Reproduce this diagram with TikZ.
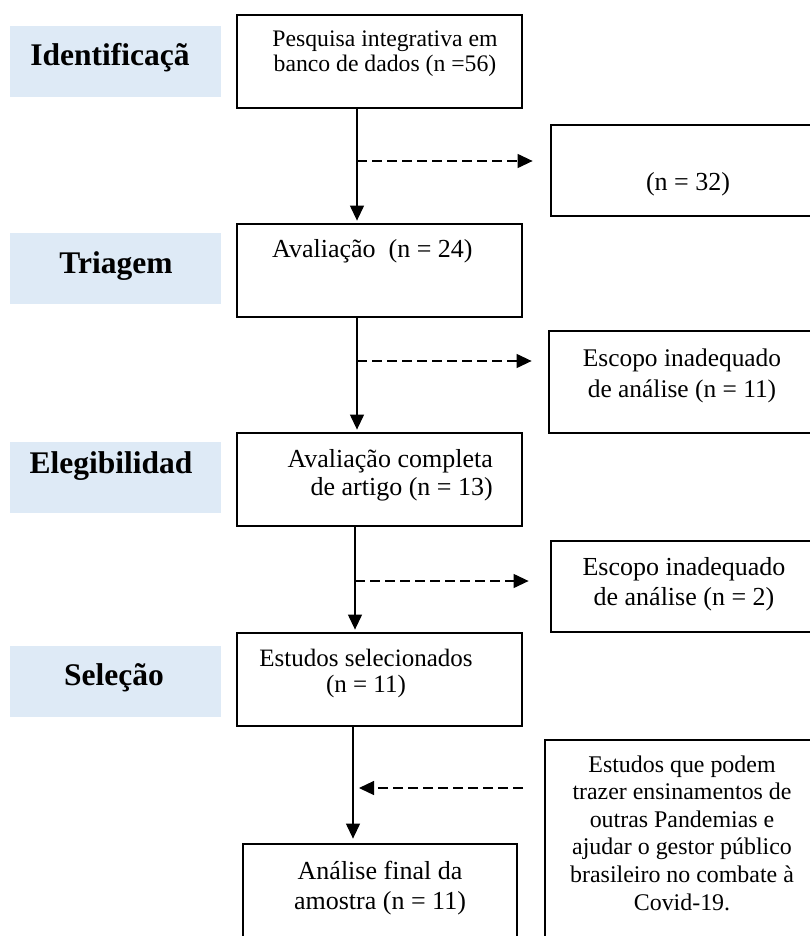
\documentclass[tikz,border=0pt]{standalone}
\usepackage{fontspec}
\setmainfont{Liberation Serif}
\usetikzlibrary{arrows.meta}
\definecolor{labblue}{HTML}{DEEAF6}
\begin{document}
\begin{tikzpicture}[x=1pt,y=-1pt,
  boxnode/.style={draw=black, line width=2.8pt, inner sep=0pt, anchor=center},
  labnode/.style={fill=labblue, draw=none, inner sep=0pt, minimum width=211pt, minimum height=71pt, anchor=center},
  labtext/.style={font=\fontsize{31.5}{36}\selectfont\bfseries, inner sep=0pt, anchor=base},
  txt/.style={inner sep=0pt, align=center, anchor=base},
  tip/.style={-{Triangle[length=15pt,width=14pt]}},
  flowarrow/.style={line width=1.2pt, tip, shorten >=2pt},
  sidearrow/.style={line width=1.2pt, dash pattern=on 10pt off 5pt, tip}
  ]
\useasboundingbox (0,0) rectangle (810,936);
\fill[white] (0,0) rectangle (810,936);
\clip (0,0) rectangle (810,936);

% stage labels
\node[labnode] (lab1) at (115.5,61.5) {};
\node[labnode] (lab2) at (115.5,268.5) {};
\node[labnode] (lab3) at (115.5,477) {};
\node[labnode] (lab4) at (115.5,681.5) {};
\node[labtext] (lt1) at (110,66) {Identificaçã};
\node[labtext] (lt2) at (116,273) {Triagem};
\node[labtext] (lt3) at (111,473) {Elegibilidad};
\node[labtext] (lt4) at (114,685) {Seleção};

% main boxes
\node[boxnode, minimum width=285pt, minimum height=93pt] (b1) at (379.5,61.5) {};
\node[boxnode, minimum width=285pt, minimum height=93pt] (b2) at (379.5,270.5) {};
\node[boxnode, minimum width=285pt, minimum height=93pt] (b3) at (379.5,479.5) {};
\node[boxnode, minimum width=285pt, minimum height=93pt] (b4) at (379.5,679.5) {};
\node[boxnode, minimum width=274pt, minimum height=116pt] (b5) at (380,902) {};

% side boxes
\node[boxnode, minimum width=279pt, minimum height=91pt] (r1) at (690.5,170.5) {};
\node[boxnode, minimum width=281pt, minimum height=102pt] (r2) at (689.5,382) {};
\node[boxnode, minimum width=279pt, minimum height=91pt] (r3) at (690.5,586.5) {};
\node[boxnode, minimum width=285pt, minimum height=220pt] (r4) at (687.5,850) {};

% texts (anchor base = baseline of last line)
\node[txt, font=\fontsize{23.7}{25}\selectfont] (t1) at (385,72) {Pesquisa integrativa em\\banco de dados (n =56)};
\node[txt, anchor=base west, font=\fontsize{26}{29}\selectfont] (t2) at (272,257) {Avaliação\ \ (n = 24)};
\node[txt, align=right, anchor=base east, font=\fontsize{26}{28}\selectfont] (t3) at (493,495) {Avaliação completa\\de artigo (n = 13)};
\node[txt, font=\fontsize{25}{26}\selectfont] (t4) at (366,692) {Estudos selecionados\\(n = 11)};
\node[txt, font=\fontsize{26}{29.5}\selectfont] (t5) at (380,909) {Análise final da\\amostra (n = 11)};
\node[txt, font=\fontsize{26}{30}\selectfont] (tr1) at (688,190) {(n = 32)};
\node[txt, font=\fontsize{25.4}{31}\selectfont] (tr2) at (682,397) {Escopo inadequado\\de análise (n = 11)};
\node[txt, font=\fontsize{26}{30}\selectfont] (tr3) at (684,605) {Escopo inadequado\\de análise (n = 2)};
\node[txt, font=\fontsize{23.9}{27.6}\selectfont] (tr4) at (682,910) {Estudos que podem\\trazer ensinamentos de\\outras Pandemias e\\ajudar o gestor público\\brasileiro no combate à\\Covid-19.};

% spine coordinates
\coordinate (s1) at (357,0);
\coordinate (s2) at (357,0);
\coordinate (s3) at (355,0);
\coordinate (s4) at (353,0);

% main flow
\draw[flowarrow] (b1.south -| s1) -- (b2.north -| s1);
\draw[flowarrow] (b2.south -| s2) -- (b3.north -| s2);
\draw[flowarrow] (b3.south -| s3) -- (b4.north -| s3);
\draw[flowarrow, shorten >=4pt] (b4.south -| s4) -- (b5.north -| s4);

% side dashed arrows
\coordinate (d1) at (357,161);
\coordinate (d2) at (357,361);
\coordinate (d3) at (355,581);
\coordinate (d4) at (523,788);
\draw[sidearrow, shorten >=17pt] (d1) -- (d1 -| r1.west);
\draw[sidearrow, shorten >=16pt] (d2) -- (d2 -| r2.west);
\draw[sidearrow, shorten >=21pt] (d3) -- (d3 -| r3.west);
\draw[sidearrow, shorten >=6pt] (d4) -- (d4 -| s4);
\end{tikzpicture}
\end{document}
